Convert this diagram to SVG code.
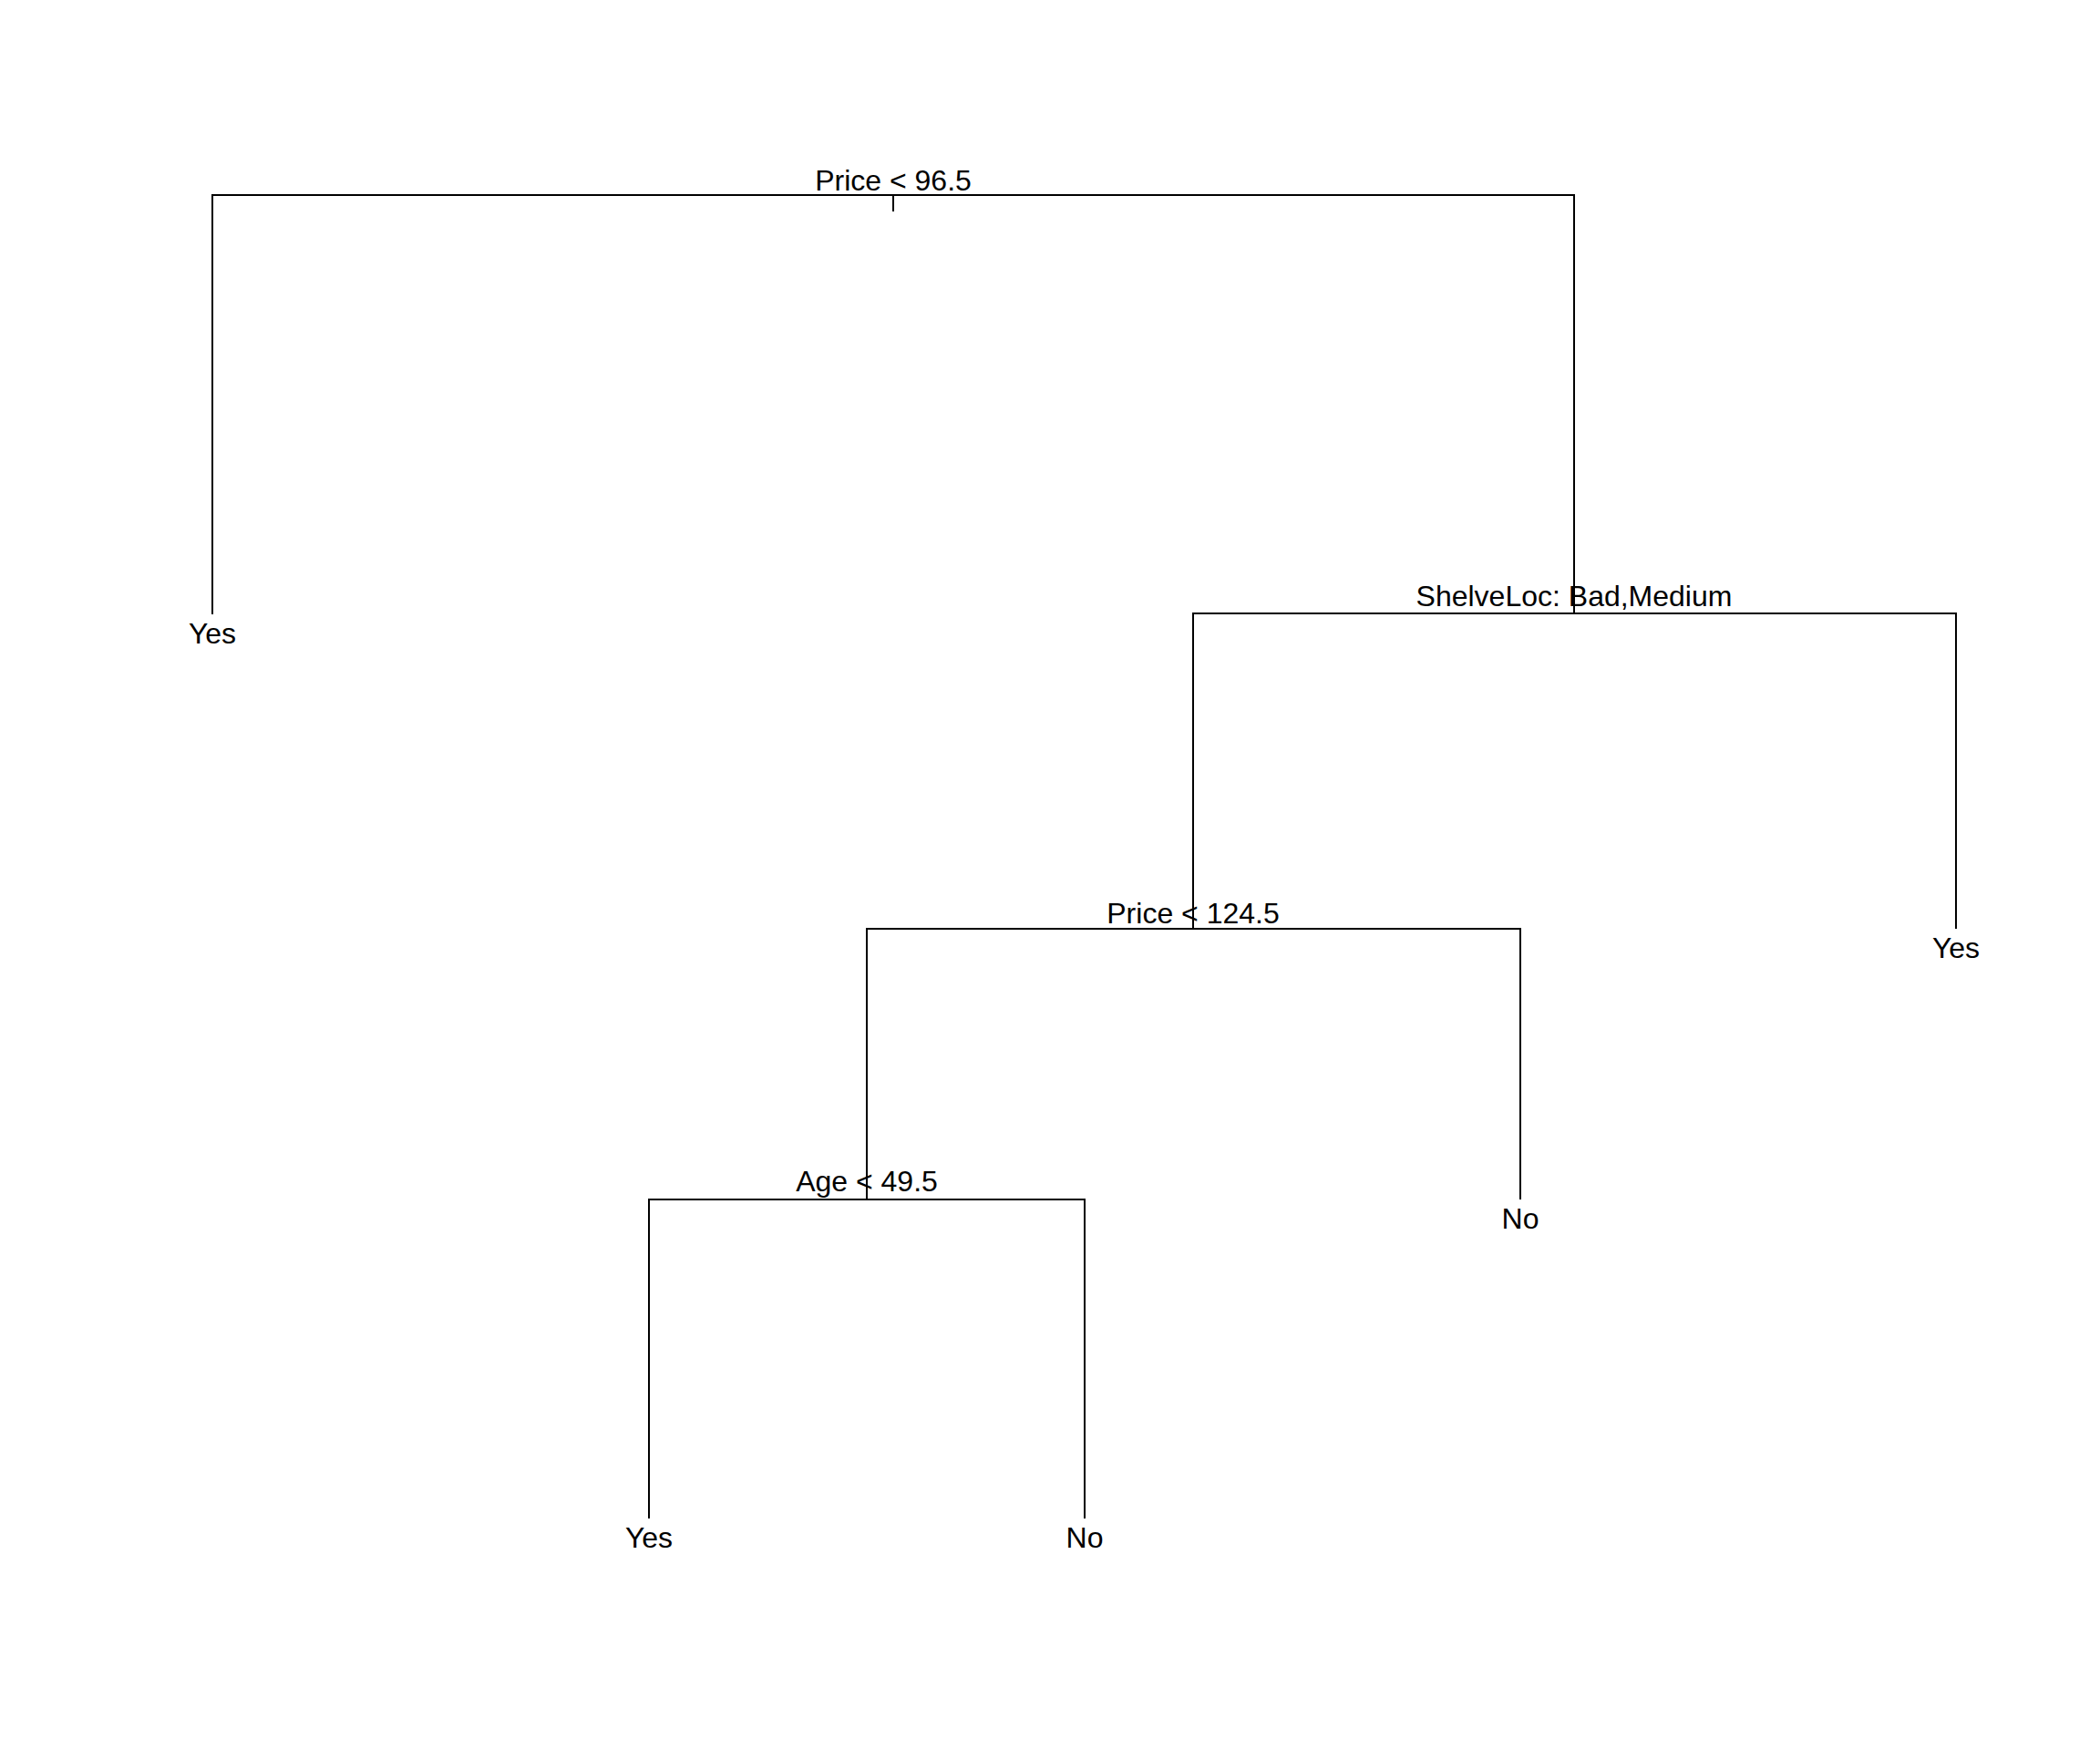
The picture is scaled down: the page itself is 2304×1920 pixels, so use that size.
<svg xmlns="http://www.w3.org/2000/svg" width="2304" height="1920" viewBox="0 0 2304 1920">
  <style>
    .edge { stroke: #000; stroke-width: 2; fill: none; stroke-linecap: butt; }
    .lbl { font-family: "Liberation Sans", Arial, sans-serif; font-size: 32px; fill: #000; text-anchor: middle; }
  </style>
  <rect x="0" y="0" width="2304" height="1920" fill="#fff"/>

  <!-- branches of the classification tree -->
  <g id="connectors">
    <!-- root split -->
    <path class="edge" d="M980,214 V232"/>
    <path class="edge" d="M233,674 V214 H1727 V673"/>
    <!-- ShelveLoc split -->
    <path class="edge" d="M1309,1019 V673 H2146 V1019"/>
    <!-- Price < 124.5 split -->
    <path class="edge" d="M951,1316 V1019 H1668 V1316"/>
    <!-- Age split -->
    <path class="edge" d="M712,1666 V1316 H1190 V1666"/>
  </g>

  <!-- split labels -->
  <g id="node-root"><text class="lbl" x="980" y="209">Price &lt; 96.5</text></g>
  <g id="node-shelveloc"><text class="lbl" x="1727" y="665">ShelveLoc: Bad,Medium</text></g>
  <g id="node-price124"><text class="lbl" x="1309" y="1013">Price &lt; 124.5</text></g>
  <g id="node-age"><text class="lbl" x="951" y="1307">Age &lt; 49.5</text></g>

  <!-- leaf labels -->
  <g id="leaf-1"><text class="lbl" x="233" y="706">Yes</text></g>
  <g id="leaf-2"><text class="lbl" x="2146" y="1051">Yes</text></g>
  <g id="leaf-3"><text class="lbl" x="1668" y="1348">No</text></g>
  <g id="leaf-4"><text class="lbl" x="712" y="1698">Yes</text></g>
  <g id="leaf-5"><text class="lbl" x="1190" y="1698">No</text></g>
</svg>
